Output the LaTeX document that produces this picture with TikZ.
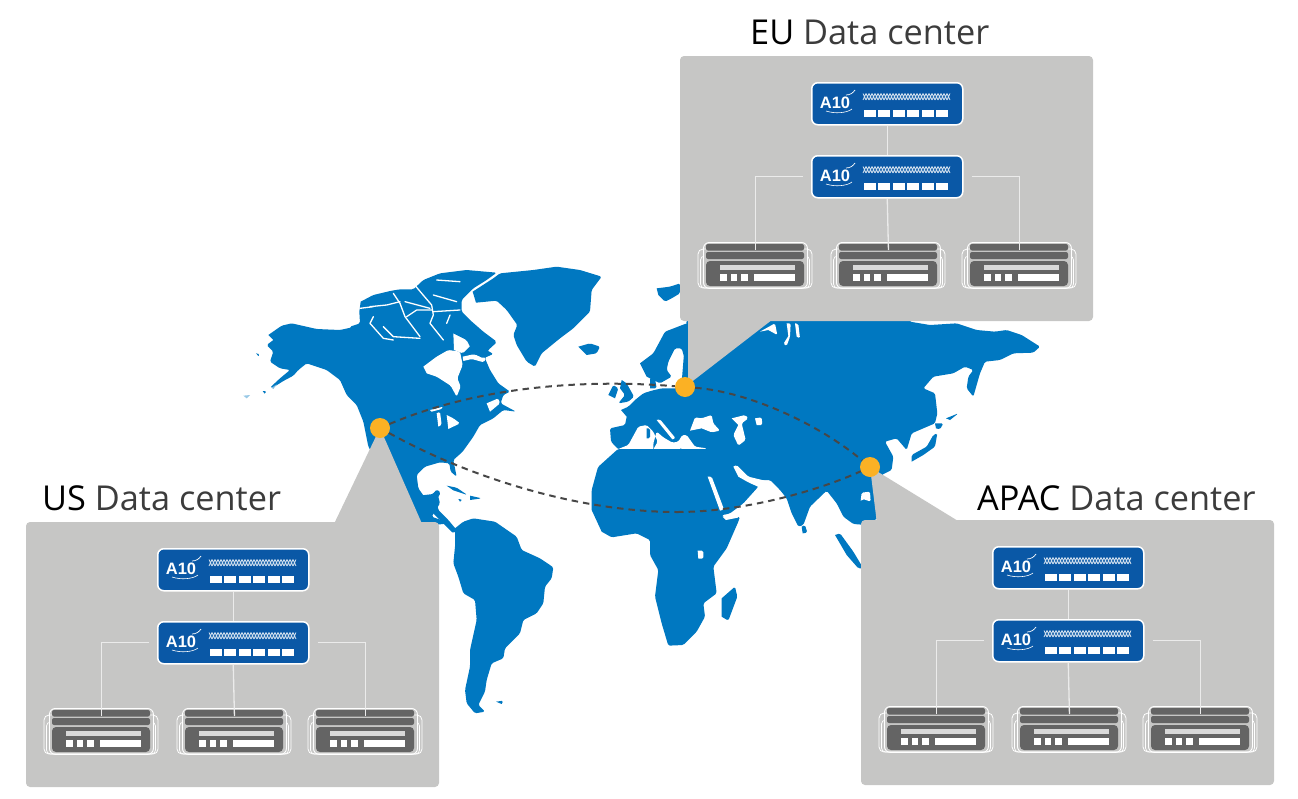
\documentclass[tikz,border=0pt]{standalone}
\usepackage{fontspec}
\setmainfont{Open Sans}
\newfontfamily\logofont{Liberation Sans}
\usetikzlibrary{calc}
\definecolor{mapblue}{HTML}{0078C1}
\definecolor{panelgray}{HTML}{C6C6C5}
\definecolor{swblue}{HTML}{0A58A6}
\definecolor{srvdark}{HTML}{646464}
\definecolor{dotorange}{HTML}{FBB124}
\definecolor{titlegray}{HTML}{3C3C3C}
\tikzset{
  land/.style={fill=mapblue,rounded corners=1.5pt},
  sea/.style={fill=white,rounded corners=1.5pt},
  slit/.style={draw=white,line width=1.3pt,line join=round,line cap=round},
  z4/.style={shift={(240,255)},scale=.33333},
  z5/.style={shift={(640,270)},scale=.33333},
  z6/.style={shift={(420,480)},scale=.33333},
  z7/.style={shift={(585,360)},scale=.33333},
  z8/.style={shift={(350,260)},scale=.33333},
  z10/.style={shift={(600,280)},scale=.33333},
  wedgebox/.style={fill=panelgray,draw=none},
  link/.style={draw=white!92!black,line width=1.3pt},
  route/.style={draw=black!72,line width=2pt,dash pattern=on 6.5pt off 5pt},
  hub/.style={circle,fill=dotorange,minimum size=20pt,inner sep=0pt},
  title/.style={anchor=base west,inner sep=0pt,font=\fontsize{34.3}{36}\selectfont},
  switchbox/.style={anchor=north west,fill=swblue,draw=white,line width=1.5pt,rounded corners=6pt,minimum width=151pt,minimum height=42pt,inner sep=0pt},
  srvbox/.style={anchor=north west,draw=white,line width=.9pt,rounded corners=6pt,minimum width=104pt,minimum height=46pt,inner sep=0pt},
  logotext/.style={text=white,inner sep=0pt,font=\logofont\bfseries\fontsize{16.5}{16.5}\selectfont},
  dc/.pic={
    \fill[panelgray,rounded corners=4pt] (0,0) rectangle (413,265);
    \node[switchbox] (-a) at (131,26) {};
    \node[switchbox] (-b) at (131,99) {};
    \swdetail{131}{26}{la}
    \swdetail{131}{99}{lb}
    \srvdetail{17}{186}{s1}
    \srvdetail{150}{186}{s2}
    \srvdetail{281}{186}{s3}
    \draw[link] (-a.south) -- (-b.north);
    \draw[link] (-b.south) -- ([yshift=-8pt]-s2.north);
    \draw[link] ([xshift=-8pt]-b.west) -| ([yshift=-8pt]-s1.north);
    \draw[link] ([xshift=8pt]-b.east) -| ([yshift=-8pt]-s3.north);
  }
}
\newcommand{\swdetail}[3]{%
  \begin{scope}[shift={(#1,#2)}]
    \node[logotext] (-#3) at (24,21) {A10};
    \draw[white,line width=.7pt] (35,13) .. controls (39,13) and (42,11) .. (44,8);
    \draw[white,line width=.6pt] (15,29) .. controls (24,32) and (36,31) .. (41,27);
    \foreach \k in {0,...,28} {
      \draw[white!82!swblue,line width=.8pt] (52+3*\k,11.5) -- (55+3*\k,18) (52+3*\k,18) -- (55+3*\k,11.5);
    }
    \foreach \k in {0,...,5} {
      \fill[white] (53+14.4*\k,28) rectangle (65+14.4*\k,34.5);
    }
  \end{scope}}
\newcommand{\srvdetail}[3]{%
  \begin{scope}[shift={(#1,#2)}]
    \draw[white,line width=.8pt,rounded corners=5pt] (1,7) rectangle (115,46);
    \draw[white,line width=.7pt,rounded corners=4pt] (3.5,14) rectangle (112.5,46);
    \fill[panelgray] (6,8) rectangle (110,45);
    \node[srvbox] (-#3) at (6,0) {};
    \fill[srvdark,rounded corners=2pt] (9,2) rectangle (107,8.5);
    \fill[srvdark,rounded corners=2pt] (9,10) rectangle (107,17);
    \fill[srvdark,rounded corners=4pt] (9,19) rectangle (107,44);
    \fill[white!85!black] (23,23) rectangle (98,28);
    \fill[white] (23,32) rectangle (29.5,39);
    \fill[white] (33.5,32) rectangle (40,39);
    \fill[white] (44,32) rectangle (51,39);
    \fill[white] (57,32) rectangle (98,39);
  \end{scope}}
\begin{document}
\begin{tikzpicture}[x=1pt,y=-1pt]
\useasboundingbox (0,0) rectangle (1298,798);
% ---------- North America ----------
\begin{scope}[z4]
\fill[land] (85,240) -- (125,212) -- (155,205) -- (230,222) -- (300,225) -- (345,215) -- (400,235) -- (460,255) -- (490,240) -- (530,250) -- (545,225) -- (590,250) -- (610,235) -- (630,215) -- (660,215) -- (700,225) -- (730,250) -- (770,262) -- (745,285) -- (735,310) -- (750,345) -- (775,385) -- (810,410) -- (790,420) -- (782,445) -- (828,470) -- (790,465) -- (760,490) -- (720,510) -- (700,545) -- (668,590) -- (640,615) -- (650,665) -- (632,650) -- (628,625) -- (600,622) -- (555,635) -- (530,660) -- (535,700) -- (560,735) -- (590,705) -- (600,745) -- (575,785) -- (630,805) -- (530,815) -- (385,575) -- (370,500) -- (350,450) -- (320,420) -- (300,375) -- (260,345) -- (200,325) -- (175,345) -- (160,362) -- (130,378) -- (100,397) -- (90,398) -- (120,370) -- (150,345) -- (120,340) -- (90,320) -- (100,290) -- (80,270) -- (100,255);
% Hudson Bay and lakes
\fill[sea] (550,335) -- (590,305) -- (625,285) -- (660,290) -- (668,330) -- (652,370) -- (662,395) -- (650,425) -- (632,392) -- (590,365) -- (560,355);
\fill[sea] (640,235) -- (675,225) -- (698,265) -- (668,295) -- (642,285);
\fill[sea] (668,305) -- (700,298) -- (738,308) -- (732,322) -- (695,312) -- (670,318);
\fill[sea] (590,475) -- (600,470) -- (605,510) -- (595,515);
\fill[sea] (620,480) -- (640,490) -- (660,505) -- (625,522);
\fill[sea] (570,465) -- (610,455) -- (605,462) -- (575,470);
\fill[sea] (740,445) -- (775,430) -- (780,445) -- (750,470);
% Greenland and Iceland
\fill[land] (698,110) -- (760,70) -- (780,55) -- (880,45) -- (950,35) -- (1020,45) -- (1085,65) -- (1055,105) -- (1050,170) -- (1000,220) -- (960,250) -- (905,295) -- (885,335) -- (860,320) -- (830,270) -- (820,240) -- (832,210) -- (800,165) -- (770,137) -- (708,143);
\fill[land] (1015,275) -- (1050,265) -- (1080,275) -- (1070,295) -- (1040,300);
% Caribbean and Aleutians
\fill[land] (620,692) -- (650,698) -- (682,720) -- (640,706);
\fill[land] (690,722) -- (725,730) -- (690,735);
\fill[land] (655,732) -- (668,734) -- (660,740);
\fill[land] (68,408) -- (80,408) -- (74,416);
\fill[land] (48,295) -- (60,298) -- (55,303);
\fill[mapblue!40] (10,422) -- (30,420) -- (20,430);
\fill[mapblue!50] (95,398) -- (110,388) -- (100,402);
\end{scope}
% ---------- Arctic islands ----------
\begin{scope}[z8]
\fill[land] (32,125) -- (70,105) -- (125,92) -- (150,88) -- (190,88) -- (220,60) -- (270,40) -- (350,30) -- (440,38) -- (410,60) -- (370,85) -- (335,120) -- (335,155) -- (360,180) -- (400,215) -- (440,245) -- (410,270) -- (430,282) -- (400,295) -- (370,280) -- (350,240) -- (300,215) -- (305,260) -- (250,260) -- (0,290) -- (0,200) -- (30,190) -- (28,155);
\draw[slit] (60,140) -- (110,135) -- (150,125);
\draw[slit] (30,145) -- (70,140);
\draw[slit] (130,100) -- (150,130) -- (165,170) -- (210,230);
\draw[slit] (215,100) -- (245,135) -- (250,165) -- (240,190) -- (280,240);
\draw[slit] (250,155) -- (330,150);
\draw[slit] (165,125) -- (240,145);
\draw[slit] (250,105) -- (320,125);
\draw[slit] (70,170) -- (60,190) -- (100,235) -- (130,240);
\draw[slit] (100,200) -- (130,230) -- (210,235);
\draw[slit] (260,60) -- (330,65);
\draw[slit] (190,70) -- (215,100);
\draw[slit] (300,165) -- (290,190);
\draw[slit] (170,170) -- (200,150) -- (245,150);
\end{scope}
% ---------- Eurasia ----------
\begin{scope}[z5]
\fill[land] (120,400) -- (140,150) -- (800,140) -- (810,155) -- (870,165) -- (950,160) -- (1010,180) -- (1065,185) -- (1100,180) -- (1145,195) -- (1200,230) -- (1180,248) -- (1120,250) -- (1080,270) -- (1035,275) -- (1020,310) -- (1000,380) -- (980,355) -- (985,320) -- (1000,300) -- (975,290) -- (940,310) -- (880,320) -- (850,355) -- (885,370) -- (892,430) -- (885,460) -- (815,490) -- (800,540) -- (770,505) -- (735,515) -- (760,560) -- (755,600) -- (725,615) -- (712,745) -- (680,765) -- (640,762) -- (610,740) -- (590,700) -- (560,662) -- (510,710) -- (490,765) -- (475,770) -- (455,730) -- (440,685) -- (420,660) -- (390,630) -- (350,630) -- (355,650) -- (310,700) -- (270,730) -- (250,735) -- (0,735) -- (0,400);
\fill[sea] (662,692) -- (665,668) -- (690,665) -- (692,695) -- (672,688);
\fill[sea] (360,185) -- (405,160) -- (412,195) -- (385,180);
\fill[sea] (440,160) -- (452,160) -- (450,200) -- (440,228) -- (430,222) -- (445,198);
\fill[sea] (465,160) -- (475,162) -- (480,205) -- (470,200);
\fill[land] (815,575) -- (815,555) -- (860,530) -- (880,495) -- (892,490) -- (885,530) -- (850,555);
\fill[land] (885,460) -- (910,460) -- (900,478) -- (888,475);
\fill[land] (918,445) -- (955,430) -- (930,450);
\end{scope}
% ---------- Europe ----------
\begin{scope}[z7]
\fill[land] (108,150) -- (130,140) -- (150,120) -- (175,100) -- (200,92) -- (230,85) -- (270,85) -- (320,80) -- (570,80) -- (570,300) -- (480,350) -- (440,320) -- (360,300) -- (250,305) -- (200,270) -- (100,268) -- (78,245) -- (75,205) -- (120,195) -- (125,170);
\fill[sea] (100,267) -- (130,255) -- (160,200) -- (185,195) -- (205,215) -- (218,245) -- (205,268) -- (225,285) -- (258,310) -- (300,290) -- (365,298) -- (365,265) -- (330,260) -- (305,225) -- (292,225) -- (280,245) -- (262,248) -- (235,232) -- (215,215) -- (205,250) -- (205,268);
\fill[sea] (215,180) -- (225,178) -- (272,235) -- (262,238);
\fill[land] (185,205) -- (195,205) -- (195,235) -- (185,235);
\fill[land] (285,265) -- (300,270) -- (295,278);
\fill[sea] (315,212) -- (330,172) -- (350,175) -- (380,165) -- (385,190) -- (405,212) -- (380,217) -- (350,205);
\fill[sea] (440,175) -- (480,165) -- (490,175) -- (470,190) -- (482,240) -- (460,257) -- (445,225) -- (460,195);
\fill[sea] (510,175) -- (530,172) -- (532,195) -- (515,195);
\fill[sea] (445,320) -- (455,315) -- (490,350) -- (540,362) -- (570,385) -- (530,385) -- (490,367) -- (460,350);
\fill[land] (110,60) -- (125,70) -- (147,110) -- (130,125) -- (100,130) -- (120,105) -- (105,85);
\fill[land] (70,105) -- (85,75) -- (100,85) -- (90,115);
\end{scope}
% ---------- Scandinavia, Svalbard ----------
\begin{scope}[z10]
\fill[land] (120,250) -- (160,220) -- (195,155) -- (260,130) -- (275,135) -- (275,300) -- (250,270) -- (255,240) -- (245,205) -- (225,205) -- (205,245) -- (200,270) -- (215,290) -- (180,310) -- (140,290);
\fill[land] (170,25) -- (210,20) -- (240,10) -- (240,40) -- (215,55) -- (195,65) -- (175,45);
\fill[land] (150,295) -- (165,295) -- (170,325) -- (150,325);
\end{scope}
% ---------- Africa, South and Central America ----------
\begin{scope}[z6]
\fill[land] (515,90) -- (515,30) -- (534,-39) -- (594,-93) -- (870,-93) -- (870,0) -- (905,100) -- (915,118) -- (960,110) -- (955,125) -- (920,205) -- (880,260) -- (890,340) -- (850,370) -- (855,410) -- (830,455) -- (790,495) -- (745,497) -- (725,430) -- (705,350) -- (715,270) -- (690,225) -- (690,180) -- (650,160) -- (575,172) -- (545,155);
\fill[land] (905,355) -- (945,320) -- (952,350) -- (925,422) -- (905,410);
\fill[sea] (833,212) -- (850,212) -- (850,236) -- (835,236);
\fill[sea] (863,-10) -- (875,-10) -- (912,88) -- (900,92);
\fill[sea] (908,110) -- (958,100) -- (958,112) -- (918,120);
\fill[land] (1145,140) -- (1155,135) -- (1162,158) -- (1148,160);
\fill[land] (1245,165) -- (1260,160) -- (1300,215) -- (1330,265) -- (1315,265) -- (1280,225);
\fill[land] (105,145) -- (130,125) -- (160,115) -- (225,125) -- (290,170) -- (305,210) -- (360,235) -- (400,262) -- (395,295) -- (375,320) -- (370,370) -- (350,400) -- (310,420) -- (300,460) -- (255,505) -- (250,535) -- (215,550) -- (200,600) -- (195,635) -- (175,675) -- (195,695) -- (165,700) -- (140,670) -- (135,630) -- (150,560) -- (150,510) -- (170,420) -- (165,360) -- (130,340) -- (115,290) -- (100,250) -- (105,200);
\fill[land] (228,665) -- (250,662) -- (245,672);
\fill[land] (-30,50) -- (40,42) -- (50,28) -- (62,38) -- (50,60) -- (55,90) -- (85,120) -- (110,150) -- (100,160) -- (70,130) -- (40,100) -- (0,75) -- (-40,60);
\end{scope}
% ---------- Call-out wedges ----------
\fill[wedgebox] (688,316) -- (777,316) -- (685,387) -- (688,387) -- cycle;
\fill[wedgebox] (380,428) -- (423,526) -- (333,526) -- cycle;
\fill[wedgebox] (870,467) -- (963,524) -- (877,524) -- cycle;
% ---------- Panels ----------
\pic (eu) at (680,56) {dc};
\pic (us) at (26,522) {dc};
\pic (apac) at (861,520) {dc};
% ---------- Hubs and routes ----------
\node[hub] (ushub) at (380,428) {};
\node[hub] (euhub) at (685,387) {};
\node[hub] (apachub) at (870,467) {};
\coordinate (lowmid) at (677,512);
\draw[route] (ushub) .. controls (470,390) and (570,378) .. (euhub);
\draw[route] (euhub) .. controls (750,392) and (820,425) .. (apachub);
\draw[route] (ushub) .. controls (470,478) and (580,512) .. (lowmid);
\draw[route] (lowmid) .. controls (745,512) and (820,490) .. (apachub);
% ---------- Titles ----------
\node[title] (eutitle) at (750,44) {EU \textcolor{titlegray}{Data center}};
\node[title] (ustitle) at (42,510) {US \textcolor{titlegray}{Data center}};
\node[title] (apactitle) at (977,510) {APAC \textcolor{titlegray}{Data center}};
\end{tikzpicture}
\end{document}
